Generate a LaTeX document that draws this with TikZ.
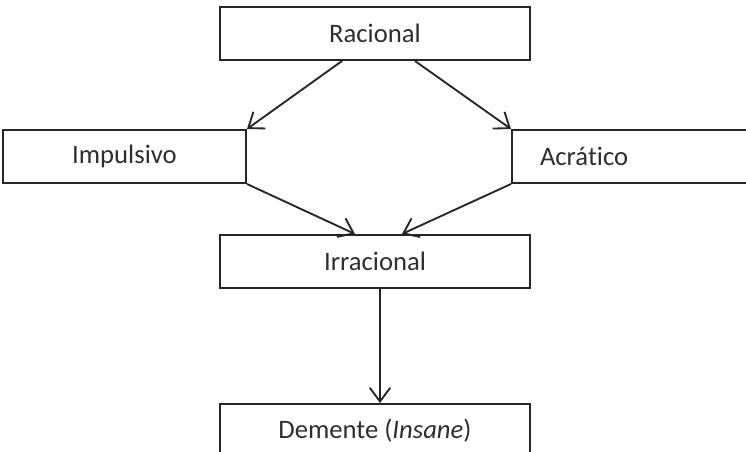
\documentclass[tikz,border=0pt]{standalone}
\usepackage{fontspec}
\setmainfont{Carlito}[Ligatures={NoCommon}]
\usetikzlibrary{arrows.meta, positioning}

\begin{document}
\begin{tikzpicture}[
    font=\fontsize{20}{24}\selectfont,
    stage/.style={
        rectangle, minimum width=232.5pt, minimum height=39.75pt,
        inner sep=0pt, align=center, draw=black!85, text=black!82,
        line width=1.5pt
    },
    side/.style={
        stage, minimum width=182.25pt
    },
    arrow/.style={-{Straight Barb[length=3.6mm, width=5.4mm]}, line width=1.4pt, color=black!85}
]
\useasboundingbox (-281.25pt,25.125pt) rectangle (278.25pt,-313.875pt);
\node (racional) [stage] {Racional};
\node (impulsivo) [side, below left=51pt and -21pt of racional] {Impulsivo};
\node (acratico) [side, below right=51pt and -15pt of racional,
    text width=140.25pt, inner xsep=21pt, align=left] {Acrático};
\node (irracional) [stage, below=129.75pt of racional] {Irracional};
\node (demente) [stage, below=85.5pt of irracional] {Demente (\textit{Insane})};
\draw [arrow] ([xshift=-24.75pt]racional.south)--(impulsivo.north east);
\draw [arrow] ([xshift=30pt]racional.south)--(acratico.north west);
\draw [arrow] (impulsivo.south east)--([xshift=-15pt]irracional.north);
\draw [arrow] (acratico.south west)--([xshift=20.25pt]irracional.north);
\draw [arrow] ([xshift=3.75pt]irracional.south)--([xshift=3.75pt]demente.north);
\end{tikzpicture}
\end{document}
